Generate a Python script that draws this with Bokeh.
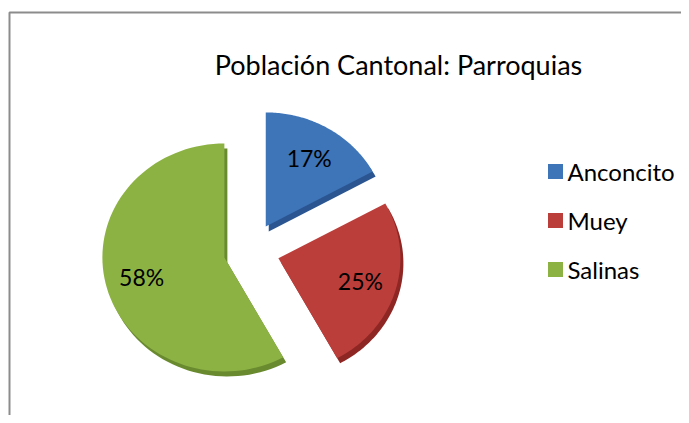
import numpy as np
from bokeh.plotting import figure
from bokeh.models import Range1d, ColumnDataSource
from bokeh.core.properties import value
from bokeh.embed import file_html
from bokeh.resources import INLINE

title = "Población Cantonal: Parroquias"
categories = ["Anconcito", "Muey", "Salinas"]
shares = [17, 25, 58]
colors = ["#3E74B8", "#BC3E3B", "#8DB244"]
side_colors = ["#2A5590", "#8E2624", "#6A8A30"]

W, H = 681, 415
FONT = value("Lato")

p = figure(width=W, height=H, output_backend="svg", toolbar_location=None,
           x_range=Range1d(0, W), y_range=Range1d(0, H), min_border=0)
p.axis.visible = False
p.grid.visible = False
p.outline_line_color = None
p.background_fill_color = "white"

# chart frame (extends past window edge)
p.quad(left=[9], right=[W + 20], top=[H - 12], bottom=[-20],
       fill_color=None, line_color="#8C8C8C", line_width=2)

# pie geometry (data units == screen pixels); slightly tilted (elliptical) pie
cx, cy = 251, H - 250
rx, ry = 122, 114
explode = 28

vals = np.array(shares, dtype=float)
frac = vals / vals.sum()
cum_end = np.cumsum(frac) * 2 * np.pi
cum_start = cum_end - frac * 2 * np.pi
mid = (cum_start + cum_end) / 2
# clockwise from 12 o'clock -> math angles
mid_ang = np.pi / 2 - mid
ax = cx + explode * np.cos(mid_ang)
ay = cy + explode * np.sin(mid_ang)


def slice_shape(x0, y0, a0, a1):
    t = np.linspace(a0, a1, 80)
    ang = np.pi / 2 - t
    xs = np.concatenate([[x0], x0 + rx * np.cos(ang), [x0]])
    ys = np.concatenate([[y0], y0 + ry * np.sin(ang), [y0]])
    return list(xs), list(ys)


xs_main, ys_main, xs_side, ys_side = [], [], [], []
for i in range(len(shares)):
    xm, ym = slice_shape(ax[i], ay[i], cum_start[i], cum_end[i])
    xsd, ysd = slice_shape(ax[i] + 3, ay[i] - 5, cum_start[i], cum_end[i])
    xs_main.append(xm); ys_main.append(ym)
    xs_side.append(xsd); ys_side.append(ysd)

p.patches(xs=xs_side, ys=ys_side, fill_color=side_colors, line_color=None)
p.patches(xs=xs_main, ys=ys_main, fill_color=colors, line_color=None)

src = ColumnDataSource(dict(lx=ax + 0.7 * rx * np.cos(mid_ang),
                            ly=ay + 0.7 * ry * np.sin(mid_ang),
                            label=[f"{s}%" for s in shares]))
p.text(x="lx", y="ly", text="label", source=src, text_font=FONT,
       text_font_size="23px", text_align="center", text_baseline="middle",
       text_color="black")

# title
p.text(x=[398], y=[H - 64], text=[title], text_font=FONT, text_font_size="27px",
       text_align="center", text_baseline="middle", text_color="black")

# legend
ly = np.array([H - 171, H - 220, H - 269], dtype=float)
p.rect(x=[555] * 3, y=ly, width=15, height=15, width_units="screen",
       height_units="screen", fill_color=colors, line_color=None)
p.text(x=[567] * 3, y=ly, text=categories, text_font=FONT, text_font_size="24px",
       text_align="left", text_baseline="middle", text_color="black")

open("out.html", "w").write(file_html(p, INLINE))
